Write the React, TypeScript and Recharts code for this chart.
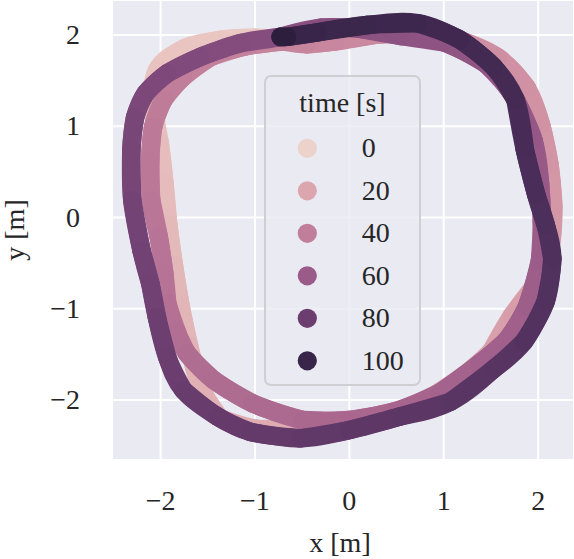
import React from "react";
import { ComposedChart, Line, XAxis, YAxis, CartesianGrid, Label } from "recharts";

// robot trajectory, one sample per second (last sample: standing at the end)
const times = [
  0, 1, 2, 3, 4, 5, 6, 7, 8, 9, 10, 11, 12, 13, 14, 15, 16, 17, 18, 19, 20,
  21, 22, 23, 24, 25, 26, 27, 28, 29, 30, 31, 32, 33, 34, 35, 36, 37, 38, 39, 40,
  41, 42, 43, 44, 45, 46, 47, 48, 49, 50, 51, 52, 53, 54, 55, 56, 57, 58, 59, 60,
  61, 62, 63, 64, 65, 66, 67, 68, 69, 70, 71, 72, 73, 74, 75, 76, 77, 78, 79, 80,
  81, 82, 83, 84, 85, 86, 87, 88, 89, 90, 91, 92, 93, 94, 95, 96, 97, 98, 99, 100,
  105,
];
const xs = [
  -0.35, -0.5, -0.72, -1.0, -1.35, -1.74, -2.03, -2.09, -2.01, -1.96, -1.92,
  -1.86, -1.79, -1.7, -1.58, -1.37, -0.95, -0.5, -0.05, 0.4, 0.82,
  1.2, 1.5, 1.72, 1.97, 2.13, 2.16, 2.12, 2.03, 1.88, 1.58,
  1.15, 0.7, 0.25, -0.15, -0.45, -0.7, -1.08, -1.47, -1.76, -1.97,
  -2.08, -2.11, -2.1, -2.02, -1.96, -1.93, -1.83, -1.72, -1.44, -1.02,
  -0.49, 0.0, 0.5, 0.96, 1.38, 1.67, 1.88, 2.02, 2.04, 2.02,
  1.95, 1.74, 1.45, 1.0, 0.54, 0.1, -0.3, -0.73, -1.16, -1.58,
  -1.93, -2.16, -2.27, -2.31, -2.3, -2.2, -2.11, -2.04, -1.93, -1.76,
  -1.4, -1.05, -0.52, 0.0, 0.54, 1.07, 1.53, 1.85, 2.08, 2.15,
  2.08, 1.98, 1.86, 1.76, 1.53, 1.17, 0.72, 0.19, -0.34, -0.66,
  -0.73,
];
const ys = [
  1.92, 1.93, 1.95, 1.97, 1.95, 1.86, 1.63, 1.24, 0.82, 0.38, -0.07,
  -0.52, -0.96, -1.4, -1.85, -2.2, -2.32, -2.3, -2.25, -2.16, -2.0,
  -1.74, -1.47, -1.08, -0.74, -0.33, 0.12, 0.58, 1.02, 1.42, 1.75,
  1.95, 2.02, 2.0, 1.93, 1.9, 1.93, 1.88, 1.76, 1.54, 1.29,
  0.99, 0.63, 0.19, -0.21, -0.62, -0.94, -1.25, -1.49, -1.78, -2.04,
  -2.22, -2.22, -2.12, -1.92, -1.6, -1.34, -0.98, -0.47, -0.05, 0.37,
  0.85, 1.33, 1.68, 1.92, 1.99, 2.07, 2.08, 1.98, 1.91, 1.76,
  1.58, 1.36, 1.1, 0.74, 0.19, -0.37, -0.72, -1.09, -1.53, -1.89,
  -2.18, -2.35, -2.42, -2.33, -2.18, -2.02, -1.66, -1.36, -0.92, -0.45,
  -0.08, 0.25, 0.74, 1.29, 1.65, 1.95, 2.13, 2.11, 2.03, 1.98,
  1.98,
];

const legendTimes = [0, 20, 40, 60, 80, 100];
const axisTicks = [-2, -1, 0, 1, 2];

const FONT = "'Liberation Serif', 'DejaVu Serif', serif";
const TEXT = "#262626";
const BAND = 18.5;
const tMax = Math.max(...times);

// seaborn cubehelix_palette(as_cmap=True): light -> dark
function cubehelix(f: number): string {
  const x = 0.85 - 0.7 * f;
  const a = (0.8 * x * (1 - x)) / 2;
  const phi = 2 * Math.PI * (0.4 * x);
  const c = Math.cos(phi);
  const s = Math.sin(phi);
  const rgb = [
    x + a * (-0.14861 * c + 1.78277 * s),
    x + a * (-0.29227 * c - 0.90649 * s),
    x + a * (1.97294 * c),
  ];
  return (
    "#" +
    rgb
      .map((v) => Math.round(Math.min(1, Math.max(0, v)) * 255).toString(16).padStart(2, "0"))
      .join("")
  );
}

const fmt = (v: number) => (v < 0 ? "\u2212" + Math.abs(v) : String(v));

// each piece runs one sample ahead so the next (later, darker) piece covers its tail
const segments = times.slice(1).map((t, i) => ({
  key: t,
  color: cubehelix(t / tMax),
  data: xs.slice(i, i + 3).map((x, j) => ({ x, y: ys[i + j] })),
}));

const XTick = (props: any) => (
  <text x={props.x} y={props.y + 50} textAnchor="middle" fontSize={28} fontFamily={FONT} fill={TEXT}>
    {fmt(props.payload.value)}
  </text>
);

const YTick = (props: any) => (
  <text x={props.x - 32} y={props.y + 9} textAnchor="end" fontSize={28} fontFamily={FONT} fill={TEXT}>
    {fmt(props.payload.value)}
  </text>
);

function TimeLegend() {
  return (
    <div style={{ position: "absolute", left: 264, top: 75, width: 157, height: 311 }}>
      <svg width={157} height={311}>
        <rect x={1} y={1} width={155} height={309} rx={6} fill="rgba(234,234,242,0.8)" stroke="#cfcfd3" strokeWidth={2} />
        <text x={78.5} y={37} textAnchor="middle" fontSize={28} fontFamily={FONT} fill={TEXT}>
          time [s]
        </text>
        {legendTimes.map((t, i) => (
          <g key={t}>
            <circle cx={43.3} cy={73.3 + i * 42.5} r={9.6} fill={cubehelix(t / tMax)} />
            <text x={97.7} y={73.3 + i * 42.5 + 8.8} fontSize={28} fontFamily={FONT} fill={TEXT}>
              {t}
            </text>
          </g>
        ))}
      </svg>
    </div>
  );
}

export default function App() {
  return (
    <div style={{ position: "absolute", left: 0, top: 0, width: 574, height: 559, background: "#fff" }}>
      <ComposedChart width={574} height={559} margin={{ top: 0, right: 0, bottom: 0, left: 0 }}>
        <CartesianGrid fill="#eaeaf2" stroke="#ffffff" strokeWidth={2} />
        <XAxis
          type="number"
          dataKey="x"
          domain={[-2.515, 2.38]}
          ticks={axisTicks}
          allowDataOverflow
          height={99}
          axisLine={false}
          tickLine={false}
          tickSize={0}
          tickMargin={0}
          tick={XTick}
          interval={0}
        >
          <Label
            content={(p: any) => (
              <text
                x={p.viewBox.x + p.viewBox.width / 2 - 3}
                y={p.viewBox.y + 92}
                textAnchor="middle"
                fontSize={28}
                fontFamily={FONT}
                fill={TEXT}
              >
                x [m]
              </text>
            )}
          />
        </XAxis>
        <YAxis
          type="number"
          dataKey="y"
          domain={[-2.658, 2.384]}
          ticks={axisTicks}
          allowDataOverflow
          width={112}
          axisLine={false}
          tickLine={false}
          tickSize={0}
          tickMargin={0}
          tick={YTick}
          interval={0}
        >
          <Label
            content={(p: any) => {
              const cx = p.viewBox.x + 24;
              const cy = p.viewBox.y + p.viewBox.height / 2;
              return (
                <text
                  x={cx}
                  y={cy}
                  transform={`rotate(-90, ${cx}, ${cy})`}
                  textAnchor="middle"
                  fontSize={28}
                  fontFamily={FONT}
                  fill={TEXT}
                >
                  y [m]
                </text>
              );
            }}
          />
        </YAxis>
        {segments.map((s) => (
          <Line
            key={s.key}
            data={s.data}
            dataKey="y"
            type="natural"
            stroke={s.color}
            strokeWidth={BAND}
            strokeLinecap="round"
            dot={false}
            activeDot={false}
            legendType="none"
            isAnimationActive={false}
          />
        ))}
      </ComposedChart>
      <TimeLegend />
    </div>
  );
}
